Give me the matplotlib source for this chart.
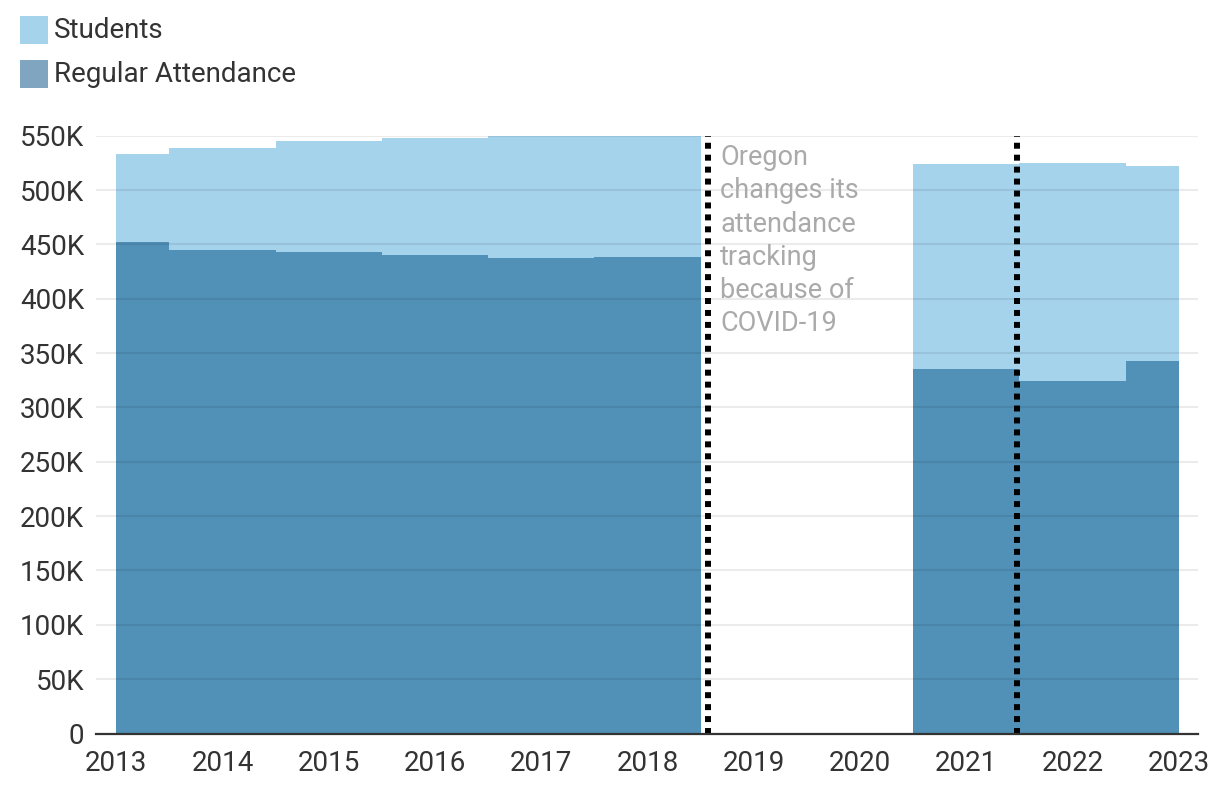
import matplotlib
matplotlib.use("Agg")
import matplotlib.pyplot as plt
from matplotlib.patches import Rectangle
import numpy as np

plt.rcParams['font.family'] = ['Roboto', 'DejaVu Sans']

# ---- data ----
years_a = [2013, 2014, 2015, 2016, 2017, 2018]
students_a = [533400, 538700, 545100, 548100, 549800, 550900]
attend_a = [452300, 444900, 443000, 439800, 437300, 438500]

years_b = [2021, 2022, 2023]
students_b = [524200, 525100, 521800]
attend_b = [335300, 324700, 342300]

x_ticks = list(range(2013, 2024))
y_ticks = [0, 50000, 100000, 150000, 200000, 250000, 300000, 350000, 400000, 450000, 500000, 550000]
y_labels = ['0', '50K', '100K', '150K', '200K', '250K', '300K', '350K', '400K', '450K', '500K', '550K']

change_lines = [2018.57, 2021.48]
note = "Oregon\nchanges its\nattendance\ntracking\nbecause of\nCOVID-19"

C_STU = '#a5d3ec'
C_ATT = '#5190b7'
C_ATT_LEG = '#7fa5c0'
TXT = '#333333'

fig = plt.figure(figsize=(12.2, 7.9), dpi=100)
ax = fig.add_axes([96 / 1220, (790 - 733.5) / 790, (1198 - 96) / 1220, (733.5 - 135.7) / 790])

xmin, xmax = x_ticks[0], x_ticks[-1]


def edges_for(years):
    e = [max(years[0] - 0.5, xmin)]
    for y in years:
        e.append(min(y + 0.5, xmax))
    return np.array(e)


for yrs, stu, att in [(years_a, students_a, attend_a), (years_b, students_b, attend_b)]:
    ed = edges_for(yrs)
    ax.stairs(stu, ed, fill=True, color=C_STU, lw=0, zorder=2)
    ax.stairs(att, ed, fill=True, color=C_ATT, lw=0, zorder=3)

ax.set_xlim(2012.81, 2023.18)
ax.set_ylim(0, 550000)

ax.set_yticks(y_ticks)
ax.set_yticklabels(y_labels)
ax.set_xticks(x_ticks)
ax.set_xticklabels([str(x) for x in x_ticks])

for yv in y_ticks[1:]:
    ax.axhline(yv, color='black', alpha=0.08, lw=1.5, zorder=4)

for xv in change_lines:
    ax.axvline(xv, color='black', lw=4.3, linestyle=(0, (1, 1)),
               dash_capstyle='butt', zorder=6, clip_on=False)

ax.text(2018.684, 542000, note, color='#aaaaaa', fontsize=19.5, va='top', ha='left',
        linespacing=1.29, zorder=7)

for s in ['left', 'right', 'top']:
    ax.spines[s].set_visible(False)
ax.spines['bottom'].set_color(TXT)
ax.spines['bottom'].set_linewidth(1.6)
ax.spines['bottom'].set_zorder(8)

ax.tick_params(axis='both', length=0, labelsize=20, colors=TXT)
ax.tick_params(axis='y', pad=8.5)
ax.tick_params(axis='x', pad=12)

# legend
for i, (lab, col) in enumerate([('Students', C_STU), ('Regular Attendance', C_ATT_LEG)]):
    ytop = 16 + i * 44
    fig.add_artist(Rectangle((20 / 1220, 1 - (ytop + 28) / 790), 28 / 1220, 28 / 790,
                             transform=fig.transFigure, color=col, lw=0))
    fig.text(54 / 1220, 1 - (ytop + 15) / 790, lab, fontsize=20, color=TXT,
             va='center', ha='left')

fig.savefig('out.png', dpi=100)
